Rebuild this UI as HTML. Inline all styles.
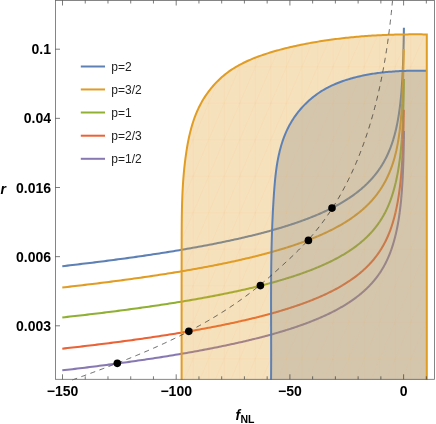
<!DOCTYPE html>
<html><head><meta charset="utf-8"><title>plot</title>
<style>
html,body{margin:0;padding:0;background:#fff;}
body{width:436px;height:424px;overflow:hidden;}
svg{display:block;font-family:"Liberation Sans",sans-serif;}
svg{will-change:transform;transform:translateZ(0);}
</style></head><body>
<svg width="436" height="424" viewBox="0 0 436 424">
<rect width="436" height="424" fill="#fff"/>
<g fill="none" stroke-width="2.05" stroke-linecap="butt" stroke-linejoin="round">
<path d="M62.30 266.19 L64.87 265.90 L67.42 265.61 L69.96 265.31 L72.49 265.02 L75.00 264.73 L77.50 264.43 L79.99 264.14 L82.47 263.84 L84.93 263.55 L87.38 263.25 L89.82 262.95 L92.25 262.66 L94.66 262.36 L97.06 262.06 L99.45 261.76 L101.82 261.46 L104.19 261.16 L106.54 260.86 L108.88 260.55 L111.21 260.25 L113.52 259.95 L115.82 259.64 L118.11 259.34 L120.39 259.03 L122.66 258.72 L124.91 258.42 L127.15 258.11 L129.38 257.80 L131.60 257.49 L133.80 257.18 L136.00 256.87 L138.18 256.56 L140.35 256.25 L142.51 255.93 L144.66 255.62 L146.79 255.31 L148.91 254.99 L151.02 254.68 L153.12 254.36 L155.21 254.04 L157.29 253.72 L159.35 253.40 L161.41 253.08 L163.45 252.76 L165.48 252.44 L167.50 252.12 L169.51 251.80 L171.50 251.47 L173.49 251.15 L175.46 250.82 L177.42 250.50 L179.37 250.17 L181.31 249.84 L183.24 249.52 L185.16 249.19 L187.06 248.86 L188.96 248.53 L190.84 248.19 L192.72 247.86 L194.58 247.53 L196.43 247.19 L198.27 246.86 L200.10 246.52 L201.92 246.18 L203.73 245.85 L205.52 245.51 L207.31 245.17 L209.08 244.83 L210.85 244.48 L212.60 244.14 L214.35 243.80 L216.08 243.45 L217.80 243.11 L219.51 242.76 L221.21 242.42 L222.91 242.07 L224.59 241.72 L226.26 241.37 L227.92 241.02 L229.56 240.66 L231.20 240.31 L232.83 239.96 L234.45 239.60 L236.06 239.25 L237.66 238.89 L239.24 238.53 L240.82 238.17 L242.39 237.81 L243.95 237.45 L245.49 237.09 L247.03 236.72 L248.56 236.36 L250.08 235.99 L251.59 235.63 L253.08 235.26 L254.57 234.89 L256.05 234.52 L257.52 234.15 L258.98 233.77 L260.43 233.40 L261.87 233.03 L263.30 232.65 L264.72 232.27 L266.13 231.90 L267.53 231.52 L268.92 231.14 L270.30 230.75 L271.68 230.37 L273.04 229.99 L274.39 229.60 L275.74 229.21 L277.07 228.83 L278.40 228.44 L279.72 228.05 L281.02 227.66 L282.32 227.26 L283.61 226.87 L284.89 226.47 L286.16 226.08 L287.42 225.68 L288.68 225.28 L289.92 224.88 L291.16 224.47 L292.38 224.07 L293.60 223.67 L294.81 223.26 L296.01 222.85 L297.20 222.44 L298.38 222.03 L299.56 221.62 L300.72 221.21 L301.88 220.79 L303.02 220.38 L304.16 219.96 L305.29 219.54 L306.41 219.12 L307.53 218.69 L308.63 218.27 L309.73 217.85 L310.82 217.42 L311.90 216.99 L312.97 216.56 L314.03 216.13 L315.09 215.69 L316.13 215.26 L317.17 214.82 L318.20 214.38 L319.22 213.94 L320.24 213.50 L321.24 213.06 L322.24 212.62 L323.23 212.17 L324.21 211.72 L325.18 211.27 L326.15 210.82 L327.11 210.36 L328.06 209.91 L329.00 209.45 L329.93 208.99 L330.86 208.53 L331.78 208.07 L332.69 207.60 L333.60 207.14 L334.49 206.67 L335.38 206.20 L336.26 205.73 L337.13 205.25 L338.00 204.78 L338.86 204.30 L339.71 203.82 L340.55 203.34 L341.39 202.85 L342.22 202.37 L343.04 201.88 L343.85 201.39 L344.66 200.89 L345.46 200.40 L346.25 199.90 L347.04 199.40 L347.82 198.90 L348.59 198.40 L349.35 197.89 L350.11 197.38 L350.86 196.87 L351.60 196.36 L352.34 195.85 L353.07 195.33 L353.79 194.81 L354.51 194.29 L355.22 193.76 L355.92 193.24 L356.61 192.71 L357.30 192.18 L357.99 191.64 L358.66 191.10 L359.33 190.56 L359.99 190.02 L360.65 189.48 L361.30 188.93 L361.94 188.38 L362.58 187.83 L363.21 187.27 L363.83 186.71 L364.45 186.15 L365.06 185.59 L365.67 185.02 L366.26 184.45 L366.86 183.88 L367.44 183.30 L368.02 182.73 L368.60 182.15 L369.17 181.56 L369.73 180.97 L370.28 180.38 L370.83 179.79 L371.38 179.19 L371.92 178.59 L372.45 177.99 L372.97 177.38 L373.49 176.77 L374.01 176.16 L374.52 175.54 L375.02 174.92 L375.52 174.30 L376.01 173.67 L376.50 173.04 L376.98 172.41 L377.45 171.77 L377.92 171.13 L378.39 170.48 L378.85 169.83 L379.30 169.18 L379.75 168.52 L380.19 167.86 L380.63 167.20 L381.06 166.53 L381.49 165.86 L381.91 165.18 L382.32 164.50 L382.73 163.81 L383.14 163.12 L383.54 162.43 L383.94 161.73 L384.33 161.03 L384.71 160.32 L385.09 159.61 L385.47 158.89 L385.84 158.17 L386.21 157.45 L386.57 156.72 L386.92 155.98 L387.27 155.24 L387.62 154.49 L387.96 153.74 L388.30 152.99 L388.63 152.23 L388.96 151.46 L389.28 150.69 L389.60 149.91 L389.92 149.13 L390.23 148.34 L390.53 147.55 L390.83 146.75 L391.13 145.95 L391.42 145.13 L391.71 144.32 L391.99 143.49 L392.27 142.66 L392.55 141.83 L392.82 140.99 L393.09 140.14 L393.35 139.28 L393.61 138.42 L393.86 137.55 L394.11 136.67 L394.36 135.79 L394.60 134.90 L394.84 134.00 L395.08 133.10 L395.31 132.19 L395.54 131.27 L395.76 130.34 L395.98 129.40 L396.20 128.46 L396.41 127.51 L396.62 126.55 L396.82 125.58 L397.02 124.60 L397.22 123.61 L397.42 122.62 L397.61 121.61 L397.79 120.60 L397.98 119.58 L398.16 118.54 L398.34 117.50 L398.51 116.45 L398.68 115.39 L398.85 114.31 L399.01 113.23 L399.17 112.13 L399.33 111.03 L399.48 109.91 L399.63 108.78 L399.78 107.64 L399.93 106.49 L400.07 105.32 L400.21 104.15 L400.34 102.96 L400.48 101.75 L400.61 100.54 L400.73 99.30 L400.86 98.06 L400.98 96.80 L401.10 95.53 L401.22 94.24 L401.33 92.93 L401.44 91.61 L401.55 90.28 L401.65 88.93 L401.75 87.56 L401.86 86.17 L401.95 84.76 L402.05 83.34 L402.14 81.90 L402.23 80.44 L402.32 78.96 L402.40 77.45 L402.49 75.93 L402.57 74.39 L402.65 72.82 L402.72 71.23 L402.80 69.62 L402.87 67.98 L402.94 66.32 L403.01 64.63 L403.07 62.92 L403.14 61.18 L403.20 59.41 L403.26 57.61 L403.31 55.78 L403.37 53.92 L403.42 52.02 L403.48 50.10 L403.53 48.14 L403.57 46.14 L403.62 44.10 L403.67 42.03 L403.71 39.92 L403.75 37.76 L403.79 35.56 L403.83 33.32 L403.86 31.03 L403.90 28.69 L403.90 27.70" stroke="#5E81B5"/>
<path d="M62.30 287.49 L64.87 287.20 L67.43 286.92 L69.97 286.63 L72.50 286.34 L75.02 286.05 L77.52 285.76 L80.02 285.47 L82.50 285.18 L84.96 284.89 L87.42 284.60 L89.86 284.30 L92.29 284.01 L94.71 283.71 L97.11 283.42 L99.50 283.12 L101.88 282.83 L104.25 282.53 L106.61 282.23 L108.95 281.93 L111.28 281.63 L113.60 281.33 L115.90 281.03 L118.20 280.73 L120.48 280.43 L122.75 280.13 L125.00 279.82 L127.25 279.52 L129.48 279.21 L131.70 278.91 L133.91 278.60 L136.11 278.29 L138.30 277.98 L140.47 277.68 L142.63 277.37 L144.78 277.06 L146.92 276.74 L149.04 276.43 L151.16 276.12 L153.26 275.81 L155.35 275.49 L157.43 275.18 L159.50 274.86 L161.56 274.54 L163.60 274.23 L165.64 273.91 L167.66 273.59 L169.67 273.27 L171.67 272.95 L173.65 272.62 L175.63 272.30 L177.60 271.98 L179.55 271.65 L181.49 271.33 L183.42 271.00 L185.34 270.67 L187.25 270.35 L189.15 270.02 L191.04 269.69 L192.91 269.36 L194.78 269.03 L196.63 268.69 L198.48 268.36 L200.31 268.02 L202.13 267.69 L203.94 267.35 L205.74 267.02 L207.53 266.68 L209.31 266.34 L211.07 266.00 L212.83 265.66 L214.58 265.32 L216.31 264.97 L218.04 264.63 L219.75 264.28 L221.46 263.94 L223.15 263.59 L224.83 263.24 L226.50 262.89 L228.17 262.54 L229.82 262.19 L231.46 261.84 L233.09 261.49 L234.71 261.13 L236.32 260.78 L237.92 260.42 L239.51 260.06 L241.09 259.71 L242.66 259.35 L244.22 258.99 L245.77 258.62 L247.31 258.26 L248.84 257.90 L250.36 257.53 L251.87 257.17 L253.37 256.80 L254.86 256.43 L256.34 256.06 L257.81 255.69 L259.28 255.32 L260.73 254.94 L262.17 254.57 L263.60 254.19 L265.02 253.82 L266.44 253.44 L267.84 253.06 L269.23 252.68 L270.62 252.30 L271.99 251.91 L273.36 251.53 L274.71 251.14 L276.06 250.76 L277.40 250.37 L278.73 249.98 L280.05 249.59 L281.35 249.20 L282.66 248.80 L283.95 248.41 L285.23 248.01 L286.50 247.62 L287.77 247.22 L289.02 246.82 L290.27 246.41 L291.50 246.01 L292.73 245.61 L293.95 245.20 L295.16 244.79 L296.36 244.39 L297.56 243.98 L298.74 243.56 L299.91 243.15 L301.08 242.74 L302.24 242.32 L303.39 241.90 L304.53 241.48 L305.66 241.06 L306.78 240.64 L307.90 240.22 L309.01 239.79 L310.10 239.36 L311.19 238.94 L312.27 238.51 L313.35 238.07 L314.41 237.64 L315.47 237.21 L316.52 236.77 L317.56 236.33 L318.59 235.89 L319.61 235.45 L320.63 235.01 L321.63 234.56 L322.63 234.11 L323.62 233.67 L324.61 233.22 L325.58 232.76 L326.55 232.31 L327.51 231.85 L328.46 231.40 L329.40 230.94 L330.34 230.48 L331.27 230.01 L332.19 229.55 L333.10 229.08 L334.01 228.61 L334.90 228.14 L335.79 227.67 L336.68 227.19 L337.55 226.72 L338.42 226.24 L339.28 225.76 L340.13 225.27 L340.97 224.79 L341.81 224.30 L342.64 223.81 L343.46 223.32 L344.28 222.83 L345.09 222.33 L345.89 221.83 L346.68 221.33 L347.47 220.83 L348.25 220.33 L349.02 219.82 L349.79 219.31 L350.55 218.80 L351.30 218.29 L352.04 217.77 L352.78 217.25 L353.51 216.73 L354.23 216.21 L354.95 215.68 L355.66 215.15 L356.36 214.62 L357.06 214.09 L357.75 213.55 L358.43 213.02 L359.11 212.47 L359.78 211.93 L360.44 211.38 L361.10 210.84 L361.75 210.28 L362.40 209.73 L363.03 209.17 L363.66 208.61 L364.29 208.05 L364.91 207.49 L365.52 206.92 L366.13 206.35 L366.72 205.77 L367.32 205.20 L367.91 204.62 L368.49 204.03 L369.06 203.45 L369.63 202.86 L370.19 202.26 L370.75 201.67 L371.30 201.07 L371.85 200.47 L372.38 199.86 L372.92 199.25 L373.44 198.64 L373.97 198.03 L374.48 197.41 L374.99 196.79 L375.49 196.16 L375.99 195.53 L376.49 194.90 L376.97 194.26 L377.45 193.62 L377.93 192.98 L378.40 192.33 L378.87 191.68 L379.33 191.03 L379.78 190.37 L380.23 189.70 L380.67 189.04 L381.11 188.37 L381.54 187.69 L381.97 187.01 L382.39 186.33 L382.81 185.64 L383.22 184.95 L383.63 184.26 L384.03 183.56 L384.42 182.85 L384.81 182.14 L385.20 181.43 L385.58 180.71 L385.96 179.99 L386.33 179.26 L386.70 178.53 L387.06 177.79 L387.41 177.04 L387.77 176.30 L388.11 175.54 L388.46 174.79 L388.79 174.02 L389.13 173.26 L389.46 172.48 L389.78 171.70 L390.10 170.92 L390.41 170.13 L390.72 169.33 L391.03 168.53 L391.33 167.72 L391.63 166.91 L391.92 166.09 L392.21 165.27 L392.49 164.43 L392.77 163.60 L393.04 162.75 L393.31 161.90 L393.58 161.04 L393.84 160.18 L394.09 159.31 L394.34 158.43 L394.59 157.54 L394.83 156.65 L395.06 155.75 L395.30 154.85 L395.53 153.93 L395.75 153.01 L395.97 152.08 L396.18 151.14 L396.40 150.20 L396.60 149.24 L396.81 148.28 L397.01 147.31 L397.20 146.33 L397.39 145.34 L397.58 144.35 L397.77 143.34 L397.95 142.33 L398.13 141.30 L398.30 140.27 L398.47 139.22 L398.64 138.17 L398.80 137.11 L398.96 136.03 L399.12 134.95 L399.27 133.85 L399.42 132.75 L399.57 131.63 L399.71 130.50 L399.85 129.36 L399.99 128.20 L400.12 127.04 L400.25 125.86 L400.38 124.67 L400.51 123.47 L400.63 122.25 L400.75 121.02 L400.87 119.78 L400.98 118.52 L401.09 117.25 L401.20 115.96 L401.31 114.66 L401.41 113.34 L401.51 112.00 L401.61 110.65 L401.71 109.28 L401.80 107.90 L401.89 106.50 L401.98 105.08 L402.07 103.64 L402.15 102.18 L402.23 100.70 L402.31 99.21 L402.39 97.69 L402.46 96.15 L402.54 94.59 L402.61 93.00 L402.68 91.40 L402.74 89.77 L402.81 88.11 L402.87 86.43 L402.93 84.72 L402.99 82.99 L403.05 81.23 L403.10 79.44 L403.16 77.62 L403.21 75.77 L403.26 73.89 L403.31 71.98 L403.35 70.03 L403.40 68.04 L403.44 66.02 L403.48 63.97 L403.52 61.87 L403.56 59.73 L403.60 57.56 L403.63 55.33 L403.67 53.06 L403.70 50.75 L403.70 48.90" stroke="#E19C24"/>
<path d="M62.30 317.44 L64.86 317.16 L67.41 316.88 L69.94 316.60 L72.46 316.32 L74.97 316.03 L77.46 315.75 L79.94 315.47 L82.41 315.19 L84.87 314.90 L87.32 314.62 L89.75 314.33 L92.17 314.05 L94.58 313.76 L96.97 313.47 L99.35 313.18 L101.72 312.90 L104.08 312.61 L106.43 312.32 L108.76 312.03 L111.08 311.73 L113.39 311.44 L115.69 311.15 L117.97 310.86 L120.24 310.56 L122.50 310.27 L124.75 309.97 L126.99 309.68 L129.21 309.38 L131.42 309.08 L133.62 308.78 L135.81 308.48 L137.99 308.19 L140.15 307.88 L142.30 307.58 L144.44 307.28 L146.57 306.98 L148.69 306.68 L150.80 306.37 L152.89 306.07 L154.97 305.76 L157.05 305.45 L159.10 305.15 L161.15 304.84 L163.19 304.53 L165.21 304.22 L167.23 303.91 L169.23 303.60 L171.22 303.29 L173.20 302.98 L175.17 302.66 L177.13 302.35 L179.07 302.03 L181.01 301.72 L182.93 301.40 L184.84 301.08 L186.75 300.76 L188.64 300.44 L190.51 300.12 L192.38 299.80 L194.24 299.48 L196.09 299.16 L197.92 298.84 L199.75 298.51 L201.56 298.19 L203.36 297.86 L205.16 297.53 L206.94 297.20 L208.71 296.87 L210.47 296.54 L212.22 296.21 L213.96 295.88 L215.69 295.55 L217.40 295.22 L219.11 294.88 L220.81 294.55 L222.49 294.21 L224.17 293.87 L225.84 293.53 L227.49 293.19 L229.14 292.85 L230.77 292.51 L232.40 292.17 L234.01 291.83 L235.61 291.48 L237.21 291.14 L238.79 290.79 L240.36 290.44 L241.93 290.09 L243.48 289.74 L245.03 289.39 L246.56 289.04 L248.08 288.69 L249.60 288.34 L251.10 287.98 L252.60 287.63 L254.08 287.27 L255.55 286.91 L257.02 286.55 L258.47 286.19 L259.92 285.83 L261.36 285.47 L262.78 285.10 L264.20 284.74 L265.61 284.37 L267.00 284.00 L268.39 283.63 L269.77 283.27 L271.14 282.89 L272.50 282.52 L273.85 282.15 L275.19 281.77 L276.52 281.40 L277.85 281.02 L279.16 280.64 L280.46 280.26 L281.76 279.88 L283.04 279.50 L284.32 279.12 L285.59 278.73 L286.85 278.35 L288.10 277.96 L289.34 277.57 L290.57 277.18 L291.79 276.79 L293.01 276.40 L294.21 276.00 L295.41 275.61 L296.60 275.21 L297.78 274.81 L298.95 274.41 L300.11 274.01 L301.26 273.61 L302.41 273.21 L303.54 272.80 L304.67 272.39 L305.79 271.98 L306.90 271.57 L308.00 271.16 L309.10 270.75 L310.18 270.34 L311.26 269.92 L312.33 269.50 L313.39 269.08 L314.44 268.66 L315.48 268.24 L316.52 267.82 L317.54 267.39 L318.56 266.96 L319.58 266.54 L320.58 266.11 L321.57 265.67 L322.56 265.24 L323.54 264.80 L324.51 264.37 L325.47 263.93 L326.43 263.49 L327.38 263.05 L328.32 262.60 L329.25 262.16 L330.17 261.71 L331.09 261.26 L332.00 260.81 L332.90 260.35 L333.79 259.90 L334.68 259.44 L335.56 258.98 L336.43 258.52 L337.29 258.06 L338.15 257.59 L339.00 257.13 L339.84 256.66 L340.67 256.19 L341.50 255.72 L342.32 255.24 L343.13 254.76 L343.94 254.29 L344.73 253.80 L345.53 253.32 L346.31 252.84 L347.09 252.35 L347.85 251.86 L348.62 251.37 L349.37 250.87 L350.12 250.38 L350.86 249.88 L351.60 249.38 L352.32 248.87 L353.05 248.37 L353.76 247.86 L354.47 247.35 L355.17 246.84 L355.86 246.32 L356.55 245.81 L357.23 245.29 L357.90 244.76 L358.57 244.24 L359.23 243.71 L359.88 243.18 L360.53 242.65 L361.17 242.11 L361.81 241.58 L362.44 241.04 L363.06 240.49 L363.68 239.95 L364.29 239.40 L364.89 238.85 L365.49 238.29 L366.08 237.74 L366.66 237.18 L367.24 236.61 L367.81 236.05 L368.38 235.48 L368.94 234.91 L369.49 234.33 L370.04 233.75 L370.59 233.17 L371.12 232.59 L371.65 232.00 L372.18 231.41 L372.70 230.82 L373.21 230.22 L373.72 229.62 L374.22 229.02 L374.72 228.41 L375.21 227.80 L375.69 227.18 L376.17 226.57 L376.65 225.94 L377.11 225.32 L377.58 224.69 L378.04 224.06 L378.49 223.42 L378.93 222.78 L379.38 222.14 L379.81 221.49 L380.24 220.84 L380.67 220.19 L381.09 219.53 L381.50 218.86 L381.91 218.20 L382.32 217.53 L382.72 216.85 L383.11 216.17 L383.50 215.48 L383.89 214.80 L384.27 214.10 L384.64 213.40 L385.01 212.70 L385.38 212.00 L385.74 211.28 L386.09 210.57 L386.44 209.85 L386.79 209.12 L387.13 208.39 L387.47 207.65 L387.80 206.91 L388.12 206.17 L388.45 205.41 L388.77 204.66 L389.08 203.89 L389.39 203.13 L389.69 202.35 L389.99 201.57 L390.29 200.79 L390.58 200.00 L390.87 199.20 L391.15 198.40 L391.43 197.59 L391.70 196.78 L391.97 195.96 L392.24 195.13 L392.50 194.30 L392.76 193.46 L393.02 192.61 L393.27 191.75 L393.53 190.89 L393.77 190.03 L394.02 189.15 L394.26 188.27 L394.50 187.38 L394.73 186.48 L394.96 185.58 L395.19 184.67 L395.41 183.75 L395.64 182.82 L395.85 181.88 L396.07 180.94 L396.28 179.99 L396.49 179.03 L396.70 178.06 L396.90 177.08 L397.10 176.09 L397.29 175.09 L397.49 174.08 L397.67 173.07 L397.86 172.04 L398.04 171.01 L398.22 169.96 L398.40 168.90 L398.57 167.83 L398.74 166.76 L398.91 165.67 L399.08 164.57 L399.24 163.46 L399.40 162.33 L399.55 161.20 L399.70 160.05 L399.85 158.89 L400.00 157.71 L400.14 156.53 L400.28 155.33 L400.42 154.11 L400.55 152.89 L400.68 151.64 L400.81 150.39 L400.94 149.12 L401.06 147.83 L401.18 146.53 L401.30 145.21 L401.41 143.87 L401.53 142.52 L401.64 141.15 L401.74 139.76 L401.85 138.36 L401.95 136.93 L402.05 135.49 L402.14 134.02 L402.23 132.54 L402.33 131.03 L402.41 129.51 L402.50 127.96 L402.58 126.38 L402.67 124.79 L402.74 123.17 L402.82 121.52 L402.90 119.85 L402.97 118.15 L403.04 116.43 L403.11 114.67 L403.17 112.89 L403.23 111.07 L403.30 109.23 L403.35 107.35 L403.41 105.44 L403.47 103.49 L403.52 101.51 L403.57 99.49 L403.62 97.42 L403.67 95.32 L403.71 93.18 L403.76 90.99 L403.80 88.76 L403.84 86.47 L403.88 84.14 L403.91 81.76 L403.95 79.32 L403.95 78.90" stroke="#8FB032"/>
<path d="M62.30 348.66 L64.86 348.38 L67.41 348.10 L69.94 347.81 L72.46 347.53 L74.97 347.24 L77.46 346.95 L79.95 346.66 L82.42 346.38 L84.87 346.09 L87.32 345.80 L89.75 345.51 L92.17 345.22 L94.58 344.93 L96.97 344.63 L99.36 344.34 L101.73 344.05 L104.09 343.75 L106.43 343.46 L108.76 343.16 L111.09 342.87 L113.39 342.57 L115.69 342.27 L117.98 341.98 L120.25 341.68 L122.51 341.38 L124.76 341.08 L126.99 340.78 L129.22 340.47 L131.43 340.17 L133.63 339.87 L135.82 339.56 L138.00 339.26 L140.16 338.95 L142.31 338.65 L144.45 338.34 L146.58 338.03 L148.70 337.73 L150.81 337.42 L152.90 337.11 L154.98 336.80 L157.06 336.48 L159.12 336.17 L161.16 335.86 L163.20 335.55 L165.23 335.23 L167.24 334.92 L169.24 334.60 L171.23 334.28 L173.21 333.96 L175.18 333.65 L177.14 333.33 L179.09 333.01 L181.02 332.68 L182.94 332.36 L184.86 332.04 L186.76 331.72 L188.65 331.39 L190.53 331.06 L192.40 330.74 L194.26 330.41 L196.10 330.08 L197.94 329.75 L199.76 329.42 L201.58 329.09 L203.38 328.76 L205.17 328.43 L206.95 328.10 L208.73 327.76 L210.49 327.43 L212.24 327.09 L213.97 326.75 L215.70 326.41 L217.42 326.07 L219.13 325.73 L220.83 325.39 L222.51 325.05 L224.19 324.71 L225.85 324.36 L227.51 324.02 L229.16 323.67 L230.79 323.33 L232.41 322.98 L234.03 322.63 L235.63 322.28 L237.23 321.93 L238.81 321.57 L240.39 321.22 L241.95 320.87 L243.50 320.51 L245.05 320.15 L246.58 319.80 L248.10 319.44 L249.62 319.08 L251.12 318.72 L252.62 318.36 L254.10 317.99 L255.58 317.63 L257.04 317.26 L258.50 316.90 L259.94 316.53 L261.38 316.16 L262.80 315.79 L264.22 315.42 L265.63 315.05 L267.03 314.67 L268.41 314.30 L269.79 313.92 L271.16 313.54 L272.52 313.17 L273.87 312.79 L275.22 312.41 L276.55 312.02 L277.87 311.64 L279.18 311.26 L280.49 310.87 L281.78 310.48 L283.07 310.09 L284.35 309.70 L285.61 309.31 L286.87 308.92 L288.12 308.53 L289.37 308.13 L290.60 307.73 L291.82 307.34 L293.03 306.94 L294.24 306.54 L295.44 306.13 L296.63 305.73 L297.80 305.33 L298.97 304.92 L300.14 304.51 L301.29 304.10 L302.43 303.69 L303.57 303.28 L304.70 302.86 L305.82 302.45 L306.93 302.03 L308.03 301.61 L309.12 301.19 L310.21 300.77 L311.29 300.35 L312.35 299.93 L313.41 299.50 L314.47 299.07 L315.51 298.64 L316.55 298.21 L317.57 297.78 L318.59 297.34 L319.60 296.91 L320.61 296.47 L321.60 296.03 L322.59 295.59 L323.57 295.15 L324.54 294.70 L325.50 294.26 L326.46 293.81 L327.41 293.36 L328.35 292.91 L329.28 292.45 L330.20 292.00 L331.12 291.54 L332.03 291.08 L332.93 290.62 L333.83 290.16 L334.71 289.69 L335.59 289.23 L336.46 288.76 L337.32 288.29 L338.18 287.81 L339.03 287.34 L339.87 286.86 L340.71 286.38 L341.53 285.90 L342.35 285.42 L343.16 284.94 L343.97 284.45 L344.77 283.96 L345.56 283.47 L346.34 282.97 L347.12 282.48 L347.89 281.98 L348.65 281.48 L349.41 280.98 L350.15 280.47 L350.90 279.97 L351.63 279.46 L352.36 278.95 L353.08 278.43 L353.79 277.91 L354.50 277.40 L355.20 276.87 L355.89 276.35 L356.58 275.82 L357.26 275.30 L357.94 274.76 L358.60 274.23 L359.26 273.69 L359.92 273.16 L360.57 272.61 L361.21 272.07 L361.84 271.52 L362.47 270.97 L363.09 270.42 L363.71 269.86 L364.32 269.31 L364.92 268.75 L365.52 268.18 L366.11 267.62 L366.70 267.05 L367.28 266.47 L367.85 265.90 L368.41 265.32 L368.98 264.74 L369.53 264.15 L370.08 263.56 L370.62 262.97 L371.16 262.38 L371.69 261.78 L372.21 261.18 L372.73 260.58 L373.25 259.97 L373.75 259.36 L374.26 258.75 L374.75 258.13 L375.24 257.51 L375.73 256.88 L376.21 256.25 L376.68 255.62 L377.15 254.99 L377.61 254.35 L378.07 253.70 L378.52 253.06 L378.97 252.41 L379.41 251.75 L379.85 251.09 L380.28 250.43 L380.70 249.76 L381.12 249.09 L381.54 248.42 L381.95 247.74 L382.35 247.06 L382.75 246.37 L383.15 245.68 L383.54 244.98 L383.92 244.28 L384.30 243.58 L384.68 242.87 L385.05 242.15 L385.41 241.43 L385.77 240.71 L386.13 239.98 L386.48 239.25 L386.83 238.51 L387.17 237.76 L387.50 237.02 L387.83 236.26 L388.16 235.50 L388.48 234.74 L388.80 233.97 L389.12 233.19 L389.43 232.41 L389.73 231.62 L390.03 230.83 L390.33 230.03 L390.62 229.23 L390.91 228.42 L391.19 227.60 L391.47 226.78 L391.74 225.95 L392.01 225.12 L392.28 224.28 L392.54 223.43 L392.80 222.57 L393.06 221.71 L393.31 220.84 L393.56 219.97 L393.81 219.09 L394.05 218.20 L394.29 217.30 L394.53 216.39 L394.76 215.48 L394.99 214.56 L395.22 213.64 L395.44 212.70 L395.66 211.76 L395.88 210.80 L396.09 209.84 L396.30 208.87 L396.51 207.90 L396.72 206.91 L396.92 205.91 L397.11 204.91 L397.31 203.89 L397.50 202.87 L397.69 201.84 L397.87 200.79 L398.05 199.74 L398.23 198.67 L398.40 197.60 L398.58 196.51 L398.74 195.42 L398.91 194.31 L399.07 193.19 L399.23 192.06 L399.39 190.91 L399.54 189.76 L399.69 188.59 L399.84 187.41 L399.98 186.22 L400.12 185.01 L400.26 183.79 L400.40 182.55 L400.53 181.31 L400.66 180.04 L400.79 178.76 L400.91 177.47 L401.03 176.16 L401.15 174.84 L401.27 173.50 L401.38 172.14 L401.49 170.76 L401.60 169.37 L401.70 167.96 L401.80 166.53 L401.90 165.08 L402.00 163.61 L402.09 162.12 L402.19 160.61 L402.28 159.08 L402.36 157.52 L402.45 155.95 L402.53 154.35 L402.61 152.72 L402.69 151.07 L402.76 149.40 L402.84 147.70 L402.91 145.97 L402.97 144.22 L403.04 142.43 L403.11 140.62 L403.17 138.77 L403.23 136.90 L403.29 134.98 L403.34 133.04 L403.40 131.06 L403.45 129.04 L403.50 126.98 L403.55 124.89 L403.59 122.75 L403.64 120.57 L403.68 118.34 L403.72 116.07 L403.76 113.75 L403.80 111.38 L403.80 109.75" stroke="#EB6235"/>
<path d="M62.30 370.34 L64.86 370.05 L67.41 369.75 L69.94 369.45 L72.46 369.16 L74.97 368.86 L77.47 368.56 L79.95 368.26 L82.42 367.96 L84.88 367.66 L87.33 367.36 L89.76 367.06 L92.18 366.76 L94.59 366.46 L96.99 366.16 L99.37 365.85 L101.74 365.55 L104.10 365.24 L106.45 364.94 L108.78 364.63 L111.10 364.33 L113.41 364.02 L115.71 363.71 L117.99 363.41 L120.27 363.10 L122.53 362.79 L124.78 362.48 L127.01 362.17 L129.24 361.86 L131.45 361.55 L133.65 361.24 L135.84 360.92 L138.02 360.61 L140.19 360.30 L142.34 359.98 L144.48 359.67 L146.61 359.35 L148.73 359.03 L150.84 358.72 L152.93 358.40 L155.02 358.08 L157.09 357.76 L159.15 357.44 L161.20 357.12 L163.23 356.80 L165.26 356.48 L167.27 356.16 L169.28 355.83 L171.27 355.51 L173.25 355.18 L175.22 354.86 L177.18 354.53 L179.12 354.20 L181.06 353.88 L182.98 353.55 L184.90 353.22 L186.80 352.89 L188.69 352.56 L190.57 352.23 L192.44 351.89 L194.30 351.56 L196.15 351.23 L197.98 350.89 L199.81 350.56 L201.62 350.22 L203.43 349.88 L205.22 349.55 L207.00 349.21 L208.77 348.87 L210.53 348.53 L212.28 348.19 L214.02 347.84 L215.75 347.50 L217.47 347.16 L219.18 346.81 L220.88 346.47 L222.56 346.12 L224.24 345.77 L225.91 345.42 L227.56 345.08 L229.21 344.73 L230.84 344.37 L232.47 344.02 L234.09 343.67 L235.69 343.32 L237.28 342.96 L238.87 342.61 L240.44 342.25 L242.01 341.89 L243.56 341.53 L245.11 341.17 L246.64 340.81 L248.16 340.45 L249.68 340.09 L251.18 339.73 L252.68 339.36 L254.16 339.00 L255.64 338.63 L257.10 338.26 L258.56 337.89 L260.01 337.52 L261.44 337.15 L262.87 336.78 L264.29 336.41 L265.69 336.03 L267.09 335.66 L268.48 335.28 L269.86 334.91 L271.23 334.53 L272.59 334.15 L273.94 333.77 L275.28 333.38 L276.62 333.00 L277.94 332.62 L279.25 332.23 L280.56 331.85 L281.86 331.46 L283.14 331.07 L284.42 330.68 L285.69 330.29 L286.95 329.89 L288.20 329.50 L289.44 329.11 L290.67 328.71 L291.90 328.31 L293.11 327.91 L294.32 327.51 L295.51 327.11 L296.70 326.71 L297.88 326.30 L299.05 325.90 L300.21 325.49 L301.37 325.08 L302.51 324.67 L303.65 324.26 L304.78 323.85 L305.90 323.44 L307.01 323.02 L308.11 322.60 L309.20 322.18 L310.29 321.77 L311.37 321.34 L312.44 320.92 L313.50 320.50 L314.55 320.07 L315.59 319.64 L316.63 319.22 L317.66 318.79 L318.68 318.35 L319.69 317.92 L320.69 317.49 L321.69 317.05 L322.67 316.61 L323.65 316.17 L324.63 315.73 L325.59 315.29 L326.55 314.84 L327.49 314.39 L328.43 313.95 L329.37 313.50 L330.29 313.04 L331.21 312.59 L332.12 312.14 L333.02 311.68 L333.91 311.22 L334.80 310.76 L335.68 310.30 L336.55 309.83 L337.41 309.37 L338.27 308.90 L339.12 308.43 L339.96 307.96 L340.80 307.48 L341.62 307.01 L342.44 306.53 L343.26 306.05 L344.06 305.57 L344.86 305.08 L345.65 304.60 L346.43 304.11 L347.21 303.62 L347.98 303.13 L348.74 302.63 L349.50 302.14 L350.25 301.64 L350.99 301.14 L351.72 300.63 L352.45 300.13 L353.17 299.62 L353.89 299.11 L354.60 298.60 L355.30 298.09 L355.99 297.57 L356.68 297.05 L357.36 296.53 L358.03 296.00 L358.70 295.48 L359.36 294.95 L360.02 294.42 L360.66 293.88 L361.31 293.35 L361.94 292.81 L362.57 292.26 L363.19 291.72 L363.81 291.17 L364.42 290.62 L365.02 290.07 L365.62 289.52 L366.21 288.96 L366.80 288.40 L367.37 287.83 L367.95 287.27 L368.51 286.70 L369.07 286.12 L369.63 285.55 L370.18 284.97 L370.72 284.39 L371.26 283.80 L371.79 283.22 L372.31 282.62 L372.83 282.03 L373.35 281.43 L373.86 280.83 L374.36 280.23 L374.85 279.62 L375.35 279.01 L375.83 278.40 L376.31 277.78 L376.78 277.16 L377.25 276.53 L377.72 275.91 L378.17 275.27 L378.63 274.64 L379.07 274.00 L379.51 273.36 L379.95 272.71 L380.38 272.06 L380.81 271.40 L381.23 270.75 L381.64 270.08 L382.05 269.42 L382.46 268.75 L382.86 268.07 L383.25 267.39 L383.64 266.71 L384.03 266.02 L384.41 265.33 L384.78 264.63 L385.15 263.93 L385.52 263.23 L385.88 262.52 L386.23 261.80 L386.58 261.08 L386.93 260.36 L387.27 259.63 L387.61 258.89 L387.94 258.16 L388.27 257.41 L388.59 256.66 L388.91 255.91 L389.22 255.15 L389.53 254.38 L389.84 253.61 L390.14 252.83 L390.43 252.05 L390.72 251.26 L391.01 250.47 L391.30 249.67 L391.57 248.86 L391.85 248.05 L392.12 247.23 L392.39 246.41 L392.65 245.58 L392.91 244.74 L393.17 243.90 L393.42 243.05 L393.67 242.19 L393.92 241.32 L394.16 240.45 L394.40 239.57 L394.64 238.69 L394.87 237.80 L395.10 236.89 L395.33 235.99 L395.56 235.07 L395.78 234.15 L395.99 233.21 L396.21 232.27 L396.42 231.32 L396.63 230.37 L396.83 229.40 L397.03 228.43 L397.23 227.44 L397.42 226.45 L397.61 225.45 L397.80 224.44 L397.99 223.41 L398.17 222.38 L398.35 221.34 L398.52 220.29 L398.69 219.23 L398.86 218.15 L399.03 217.07 L399.19 215.97 L399.35 214.87 L399.51 213.75 L399.66 212.62 L399.81 211.48 L399.96 210.32 L400.10 209.15 L400.25 207.97 L400.38 206.78 L400.52 205.57 L400.65 204.35 L400.78 203.12 L400.91 201.87 L401.03 200.60 L401.15 199.32 L401.27 198.02 L401.39 196.71 L401.50 195.38 L401.61 194.04 L401.72 192.68 L401.83 191.29 L401.93 189.90 L402.03 188.48 L402.12 187.04 L402.22 185.59 L402.31 184.11 L402.40 182.61 L402.49 181.09 L402.57 179.55 L402.66 177.99 L402.74 176.40 L402.81 174.79 L402.89 173.15 L402.96 171.49 L403.03 169.80 L403.10 168.08 L403.17 166.34 L403.23 164.56 L403.30 162.76 L403.36 160.92 L403.41 159.06 L403.47 157.15 L403.52 155.22 L403.58 153.24 L403.63 151.23 L403.68 149.18 L403.72 147.09 L403.77 144.96 L403.81 142.79 L403.85 140.57 L403.89 138.30 L403.93 135.98 L403.97 133.61 L404.00 131.18 L404.00 131.00" stroke="#8778B3"/>
</g>
<path d="M271.05 380.03 L271.06 378.65 L271.07 377.26 L271.08 375.88 L271.09 374.50 L271.10 373.11 L271.10 371.73 L271.11 370.35 L271.12 368.97 L271.12 367.59 L271.13 366.20 L271.13 364.82 L271.14 363.44 L271.14 362.06 L271.15 360.68 L271.15 359.30 L271.15 357.92 L271.15 356.53 L271.15 355.15 L271.15 353.77 L271.15 352.39 L271.15 351.01 L271.15 349.63 L271.15 348.25 L271.15 346.87 L271.15 345.49 L271.15 344.11 L271.14 342.74 L271.14 341.36 L271.14 339.98 L271.14 338.60 L271.13 337.22 L271.13 335.84 L271.13 334.46 L271.12 333.08 L271.12 331.70 L271.12 330.33 L271.11 328.95 L271.11 327.57 L271.11 326.19 L271.10 324.81 L271.10 323.44 L271.09 322.06 L271.09 320.68 L271.09 319.30 L271.08 317.92 L271.08 316.55 L271.08 315.17 L271.08 313.79 L271.07 312.41 L271.07 311.04 L271.07 309.66 L271.07 308.28 L271.06 306.90 L271.06 305.53 L271.06 304.15 L271.06 302.77 L271.06 301.39 L271.06 300.02 L271.06 298.64 L271.06 297.26 L271.06 295.88 L271.07 294.51 L271.07 293.13 L271.07 291.75 L271.08 290.37 L271.08 289.00 L271.08 287.62 L271.09 286.24 L271.10 284.86 L271.10 283.49 L271.11 282.11 L271.12 280.73 L271.13 279.35 L271.13 277.98 L271.14 276.60 L271.16 275.22 L271.17 273.84 L271.18 272.46 L271.19 271.09 L271.21 269.71 L271.22 268.33 L271.24 266.95 L271.26 265.57 L271.27 264.19 L271.29 262.82 L271.31 261.44 L271.33 260.06 L271.36 258.68 L271.38 257.30 L271.40 255.92 L271.43 254.54 L271.45 253.16 L271.48 251.78 L271.51 250.40 L271.54 249.02 L271.57 247.64 L271.60 246.26 L271.64 244.88 L271.67 243.50 L271.71 242.12 L271.74 240.74 L271.78 239.36 L271.82 237.98 L271.86 236.60 L271.91 235.22 L271.95 233.84 L272.00 232.45 L272.04 231.07 L272.09 229.69 L272.14 228.31 L272.19 226.93 L272.25 225.54 L272.30 224.16 L272.36 222.78 L272.42 221.40 L272.48 220.01 L272.54 218.63 L272.60 217.24 L272.67 215.86 L272.73 214.48 L272.80 213.09 L272.87 211.71 L272.94 210.32 L273.01 208.94 L273.09 207.55 L273.17 206.17 L273.25 204.78 L273.33 203.39 L273.41 202.01 L273.49 200.62 L273.58 199.23 L273.67 197.85 L273.76 196.46 L273.85 195.07 L273.95 193.68 L274.05 192.30 L274.15 190.91 L274.25 189.52 L274.35 188.13 L274.46 186.75 L274.58 185.36 L274.69 183.97 L274.82 182.59 L274.94 181.20 L275.08 179.82 L275.21 178.44 L275.36 177.06 L275.51 175.68 L275.67 174.31 L275.83 172.93 L276.00 171.56 L276.18 170.19 L276.36 168.82 L276.56 167.46 L276.76 166.09 L276.97 164.73 L277.19 163.38 L277.42 162.02 L277.66 160.67 L277.91 159.33 L278.17 157.98 L278.44 156.64 L278.73 155.31 L279.02 153.98 L279.33 152.65 L279.64 151.33 L279.97 150.01 L280.32 148.70 L280.67 147.39 L281.04 146.08 L281.42 144.78 L281.82 143.49 L282.23 142.20 L282.66 140.92 L283.10 139.64 L283.55 138.37 L284.02 137.11 L284.51 135.85 L285.01 134.60 L285.53 133.35 L286.07 132.11 L286.63 130.88 L287.20 129.66 L287.79 128.44 L288.40 127.23 L289.02 126.02 L289.67 124.83 L290.33 123.64 L291.02 122.46 L291.72 121.28 L292.45 120.12 L293.19 118.96 L293.95 117.82 L294.73 116.68 L295.53 115.55 L296.35 114.44 L297.18 113.33 L298.04 112.23 L298.91 111.15 L299.79 110.08 L300.70 109.02 L301.61 107.97 L302.55 106.94 L303.50 105.91 L304.47 104.91 L305.45 103.91 L306.45 102.94 L307.46 101.97 L308.48 101.02 L309.52 100.09 L310.57 99.17 L311.64 98.27 L312.72 97.39 L313.81 96.52 L314.91 95.67 L316.03 94.84 L317.15 94.03 L318.29 93.24 L319.44 92.46 L320.60 91.70 L321.77 90.97 L322.95 90.25 L324.14 89.55 L325.34 88.87 L326.55 88.21 L327.77 87.56 L329.00 86.93 L330.23 86.32 L331.48 85.72 L332.73 85.14 L333.99 84.58 L335.25 84.03 L336.52 83.50 L337.80 82.98 L339.08 82.47 L340.37 81.98 L341.67 81.51 L342.96 81.05 L344.27 80.60 L345.58 80.16 L346.89 79.74 L348.21 79.33 L349.52 78.93 L350.85 78.55 L352.17 78.17 L353.50 77.81 L354.83 77.46 L356.16 77.12 L357.50 76.79 L358.84 76.47 L360.18 76.16 L361.52 75.86 L362.87 75.58 L364.21 75.30 L365.56 75.03 L366.92 74.77 L368.27 74.53 L369.63 74.29 L370.98 74.06 L372.34 73.84 L373.70 73.63 L375.07 73.42 L376.43 73.23 L377.80 73.05 L379.16 72.87 L380.53 72.70 L381.90 72.54 L383.27 72.39 L384.65 72.25 L386.02 72.11 L387.39 71.98 L388.77 71.86 L390.14 71.74 L391.52 71.63 L392.90 71.53 L394.28 71.44 L395.66 71.35 L397.04 71.27 L398.42 71.19 L399.80 71.12 L401.18 71.06 L402.56 71.00 L403.94 70.95 L405.32 70.90 L406.70 70.86 L408.08 70.82 L409.46 70.79 L410.84 70.76 L412.22 70.73 L413.60 70.72 L414.98 70.70 L416.36 70.69 L417.74 70.68 L419.11 70.68 L420.49 70.68 L421.87 70.68 L423.24 70.69 L424.62 70.70 L425.99 70.71 L426.30 70.71 L426.30 380.00 Z" fill="#5E81B5" fill-opacity="0.3"/>
<path d="M181.60 380.00 L181.60 378.24 L181.60 376.48 L181.60 374.72 L181.60 372.96 L181.60 371.20 L181.60 369.45 L181.60 367.69 L181.60 365.93 L181.60 364.17 L181.60 362.41 L181.60 360.65 L181.60 358.89 L181.60 357.13 L181.60 355.37 L181.60 353.62 L181.60 351.86 L181.60 350.10 L181.60 348.34 L181.60 346.58 L181.60 344.82 L181.60 343.06 L181.60 341.30 L181.60 339.54 L181.59 337.78 L181.59 336.02 L181.59 334.26 L181.59 332.50 L181.59 330.75 L181.59 328.99 L181.59 327.23 L181.59 325.47 L181.59 323.71 L181.59 321.95 L181.59 320.19 L181.59 318.43 L181.59 316.67 L181.59 314.91 L181.59 313.15 L181.59 311.39 L181.59 309.63 L181.59 307.87 L181.59 306.11 L181.59 304.35 L181.59 302.59 L181.59 300.84 L181.60 299.08 L181.60 297.32 L181.60 295.56 L181.60 293.80 L181.60 292.04 L181.60 290.28 L181.60 288.52 L181.60 286.76 L181.60 285.00 L181.60 283.24 L181.61 281.48 L181.61 279.72 L181.61 277.97 L181.61 276.21 L181.61 274.45 L181.61 272.69 L181.62 270.93 L181.62 269.17 L181.62 267.41 L181.62 265.65 L181.62 263.90 L181.63 262.14 L181.63 260.38 L181.63 258.62 L181.63 256.86 L181.64 255.10 L181.64 253.35 L181.64 251.59 L181.65 249.83 L181.65 248.07 L181.65 246.31 L181.66 244.56 L181.66 242.80 L181.67 241.04 L181.67 239.28 L181.67 237.53 L181.68 235.77 L181.68 234.01 L181.69 232.25 L181.70 230.50 L181.71 228.74 L181.72 226.98 L181.73 225.22 L181.74 223.47 L181.76 221.71 L181.78 219.95 L181.80 218.20 L181.82 216.44 L181.84 214.69 L181.87 212.93 L181.91 211.17 L181.94 209.42 L181.98 207.66 L182.02 205.91 L182.07 204.15 L182.12 202.39 L182.18 200.64 L182.24 198.88 L182.31 197.13 L182.38 195.37 L182.45 193.62 L182.53 191.86 L182.62 190.11 L182.72 188.35 L182.81 186.60 L182.92 184.84 L183.03 183.09 L183.15 181.33 L183.28 179.58 L183.41 177.83 L183.55 176.07 L183.70 174.32 L183.85 172.57 L184.02 170.81 L184.19 169.06 L184.37 167.31 L184.56 165.55 L184.76 163.80 L184.96 162.05 L185.18 160.29 L185.40 158.54 L185.64 156.79 L185.88 155.04 L186.14 153.28 L186.40 151.53 L186.67 149.78 L186.96 148.03 L187.26 146.28 L187.57 144.53 L187.89 142.78 L188.23 141.04 L188.58 139.30 L188.94 137.56 L189.33 135.83 L189.72 134.11 L190.14 132.38 L190.57 130.67 L191.02 128.96 L191.49 127.25 L191.98 125.56 L192.49 123.87 L193.02 122.19 L193.57 120.52 L194.15 118.86 L194.74 117.21 L195.36 115.57 L196.01 113.94 L196.68 112.32 L197.37 110.71 L198.10 109.12 L198.84 107.54 L199.62 105.97 L200.42 104.42 L201.25 102.88 L202.11 101.35 L203.00 99.85 L203.91 98.35 L204.85 96.88 L205.82 95.42 L206.81 93.98 L207.82 92.56 L208.87 91.16 L209.93 89.77 L211.02 88.41 L212.14 87.06 L213.28 85.74 L214.44 84.44 L215.63 83.16 L216.84 81.90 L218.07 80.67 L219.32 79.46 L220.60 78.27 L221.90 77.11 L223.22 75.97 L224.56 74.86 L225.92 73.77 L227.30 72.71 L228.71 71.68 L230.13 70.68 L231.57 69.70 L233.03 68.75 L234.50 67.82 L236.00 66.92 L237.51 66.04 L239.03 65.18 L240.58 64.35 L242.13 63.54 L243.70 62.75 L245.28 61.99 L246.87 61.24 L248.48 60.51 L250.10 59.80 L251.72 59.11 L253.36 58.44 L255.00 57.79 L256.66 57.15 L258.32 56.53 L259.98 55.92 L261.66 55.33 L263.34 54.75 L265.02 54.19 L266.71 53.64 L268.40 53.10 L270.10 52.58 L271.80 52.06 L273.49 51.56 L275.20 51.06 L276.90 50.58 L278.60 50.11 L280.31 49.64 L282.01 49.19 L283.72 48.75 L285.43 48.31 L287.15 47.89 L288.86 47.47 L290.57 47.07 L292.29 46.67 L294.01 46.28 L295.73 45.90 L297.45 45.53 L299.17 45.16 L300.89 44.81 L302.62 44.46 L304.34 44.12 L306.07 43.78 L307.79 43.46 L309.52 43.14 L311.25 42.82 L312.98 42.52 L314.71 42.21 L316.45 41.92 L318.18 41.63 L319.91 41.35 L321.65 41.08 L323.39 40.81 L325.12 40.54 L326.86 40.29 L328.60 40.04 L330.34 39.79 L332.08 39.55 L333.82 39.32 L335.56 39.09 L337.30 38.87 L339.05 38.66 L340.79 38.45 L342.54 38.25 L344.28 38.05 L346.03 37.86 L347.77 37.67 L349.52 37.49 L351.27 37.31 L353.02 37.14 L354.77 36.98 L356.52 36.82 L358.27 36.67 L360.02 36.52 L361.77 36.37 L363.52 36.24 L365.28 36.10 L367.03 35.98 L368.78 35.85 L370.54 35.74 L372.29 35.62 L374.05 35.52 L375.80 35.42 L377.56 35.32 L379.31 35.23 L381.07 35.14 L382.82 35.06 L384.58 34.98 L386.34 34.90 L388.10 34.84 L389.85 34.77 L391.61 34.71 L393.37 34.66 L395.13 34.61 L396.89 34.56 L398.65 34.52 L400.41 34.48 L402.17 34.45 L403.93 34.42 L405.68 34.40 L407.44 34.38 L409.20 34.36 L410.96 34.35 L412.72 34.34 L414.48 34.34 L416.24 34.34 L418.00 34.35 L419.76 34.36 L421.52 34.37 L423.28 34.39 L425.04 34.41 L426.80 34.43 L426.80 34.43 L426.80 380.00 Z" fill="#E19C24" fill-opacity="0.3"/>
<clipPath id="oc"><path d="M181.60 380.00 L181.60 378.24 L181.60 376.48 L181.60 374.72 L181.60 372.96 L181.60 371.20 L181.60 369.45 L181.60 367.69 L181.60 365.93 L181.60 364.17 L181.60 362.41 L181.60 360.65 L181.60 358.89 L181.60 357.13 L181.60 355.37 L181.60 353.62 L181.60 351.86 L181.60 350.10 L181.60 348.34 L181.60 346.58 L181.60 344.82 L181.60 343.06 L181.60 341.30 L181.60 339.54 L181.59 337.78 L181.59 336.02 L181.59 334.26 L181.59 332.50 L181.59 330.75 L181.59 328.99 L181.59 327.23 L181.59 325.47 L181.59 323.71 L181.59 321.95 L181.59 320.19 L181.59 318.43 L181.59 316.67 L181.59 314.91 L181.59 313.15 L181.59 311.39 L181.59 309.63 L181.59 307.87 L181.59 306.11 L181.59 304.35 L181.59 302.59 L181.59 300.84 L181.60 299.08 L181.60 297.32 L181.60 295.56 L181.60 293.80 L181.60 292.04 L181.60 290.28 L181.60 288.52 L181.60 286.76 L181.60 285.00 L181.60 283.24 L181.61 281.48 L181.61 279.72 L181.61 277.97 L181.61 276.21 L181.61 274.45 L181.61 272.69 L181.62 270.93 L181.62 269.17 L181.62 267.41 L181.62 265.65 L181.62 263.90 L181.63 262.14 L181.63 260.38 L181.63 258.62 L181.63 256.86 L181.64 255.10 L181.64 253.35 L181.64 251.59 L181.65 249.83 L181.65 248.07 L181.65 246.31 L181.66 244.56 L181.66 242.80 L181.67 241.04 L181.67 239.28 L181.67 237.53 L181.68 235.77 L181.68 234.01 L181.69 232.25 L181.70 230.50 L181.71 228.74 L181.72 226.98 L181.73 225.22 L181.74 223.47 L181.76 221.71 L181.78 219.95 L181.80 218.20 L181.82 216.44 L181.84 214.69 L181.87 212.93 L181.91 211.17 L181.94 209.42 L181.98 207.66 L182.02 205.91 L182.07 204.15 L182.12 202.39 L182.18 200.64 L182.24 198.88 L182.31 197.13 L182.38 195.37 L182.45 193.62 L182.53 191.86 L182.62 190.11 L182.72 188.35 L182.81 186.60 L182.92 184.84 L183.03 183.09 L183.15 181.33 L183.28 179.58 L183.41 177.83 L183.55 176.07 L183.70 174.32 L183.85 172.57 L184.02 170.81 L184.19 169.06 L184.37 167.31 L184.56 165.55 L184.76 163.80 L184.96 162.05 L185.18 160.29 L185.40 158.54 L185.64 156.79 L185.88 155.04 L186.14 153.28 L186.40 151.53 L186.67 149.78 L186.96 148.03 L187.26 146.28 L187.57 144.53 L187.89 142.78 L188.23 141.04 L188.58 139.30 L188.94 137.56 L189.33 135.83 L189.72 134.11 L190.14 132.38 L190.57 130.67 L191.02 128.96 L191.49 127.25 L191.98 125.56 L192.49 123.87 L193.02 122.19 L193.57 120.52 L194.15 118.86 L194.74 117.21 L195.36 115.57 L196.01 113.94 L196.68 112.32 L197.37 110.71 L198.10 109.12 L198.84 107.54 L199.62 105.97 L200.42 104.42 L201.25 102.88 L202.11 101.35 L203.00 99.85 L203.91 98.35 L204.85 96.88 L205.82 95.42 L206.81 93.98 L207.82 92.56 L208.87 91.16 L209.93 89.77 L211.02 88.41 L212.14 87.06 L213.28 85.74 L214.44 84.44 L215.63 83.16 L216.84 81.90 L218.07 80.67 L219.32 79.46 L220.60 78.27 L221.90 77.11 L223.22 75.97 L224.56 74.86 L225.92 73.77 L227.30 72.71 L228.71 71.68 L230.13 70.68 L231.57 69.70 L233.03 68.75 L234.50 67.82 L236.00 66.92 L237.51 66.04 L239.03 65.18 L240.58 64.35 L242.13 63.54 L243.70 62.75 L245.28 61.99 L246.87 61.24 L248.48 60.51 L250.10 59.80 L251.72 59.11 L253.36 58.44 L255.00 57.79 L256.66 57.15 L258.32 56.53 L259.98 55.92 L261.66 55.33 L263.34 54.75 L265.02 54.19 L266.71 53.64 L268.40 53.10 L270.10 52.58 L271.80 52.06 L273.49 51.56 L275.20 51.06 L276.90 50.58 L278.60 50.11 L280.31 49.64 L282.01 49.19 L283.72 48.75 L285.43 48.31 L287.15 47.89 L288.86 47.47 L290.57 47.07 L292.29 46.67 L294.01 46.28 L295.73 45.90 L297.45 45.53 L299.17 45.16 L300.89 44.81 L302.62 44.46 L304.34 44.12 L306.07 43.78 L307.79 43.46 L309.52 43.14 L311.25 42.82 L312.98 42.52 L314.71 42.21 L316.45 41.92 L318.18 41.63 L319.91 41.35 L321.65 41.08 L323.39 40.81 L325.12 40.54 L326.86 40.29 L328.60 40.04 L330.34 39.79 L332.08 39.55 L333.82 39.32 L335.56 39.09 L337.30 38.87 L339.05 38.66 L340.79 38.45 L342.54 38.25 L344.28 38.05 L346.03 37.86 L347.77 37.67 L349.52 37.49 L351.27 37.31 L353.02 37.14 L354.77 36.98 L356.52 36.82 L358.27 36.67 L360.02 36.52 L361.77 36.37 L363.52 36.24 L365.28 36.10 L367.03 35.98 L368.78 35.85 L370.54 35.74 L372.29 35.62 L374.05 35.52 L375.80 35.42 L377.56 35.32 L379.31 35.23 L381.07 35.14 L382.82 35.06 L384.58 34.98 L386.34 34.90 L388.10 34.84 L389.85 34.77 L391.61 34.71 L393.37 34.66 L395.13 34.61 L396.89 34.56 L398.65 34.52 L400.41 34.48 L402.17 34.45 L403.93 34.42 L405.68 34.40 L407.44 34.38 L409.20 34.36 L410.96 34.35 L412.72 34.34 L414.48 34.34 L416.24 34.34 L418.00 34.35 L419.76 34.36 L421.52 34.37 L423.28 34.39 L425.04 34.41 L426.80 34.43 L426.80 34.43 L426.80 380.00 Z"/></clipPath>
<path clip-path="url(#oc)" d="M162.05 30 V380 M177.60 30 V380 M193.15 30 V380 M208.70 30 V380 M224.25 30 V380 M239.80 30 V380 M255.35 30 V380 M270.90 30 V380 M286.45 30 V380 M302.00 30 V380 M317.55 30 V380 M333.10 30 V380 M348.65 30 V380 M364.20 30 V380 M379.75 30 V380 M395.30 30 V380 M410.85 30 V380 M426.40 30 V380 M180 30.10 H428 M180 66.60 H428 M180 103.10 H428 M180 139.60 H428 M180 176.10 H428 M180 212.60 H428 M180 249.10 H428 M180 285.60 H428 M180 322.10 H428 M180 358.60 H428 M-2.57 380 L146.54 30 M12.98 380 L162.09 30 M28.53 380 L177.64 30 M44.08 380 L193.19 30 M59.63 380 L208.74 30 M75.18 380 L224.29 30 M90.73 380 L239.84 30 M106.28 380 L255.39 30 M121.83 380 L270.94 30 M137.38 380 L286.49 30 M152.93 380 L302.04 30 M168.48 380 L317.59 30 M184.03 380 L333.14 30 M199.58 380 L348.69 30 M215.13 380 L364.24 30 M230.68 380 L379.79 30 M246.23 380 L395.34 30 M261.78 380 L410.89 30 M277.33 380 L426.44 30 M292.88 380 L441.99 30 M308.43 380 L457.54 30 M323.98 380 L473.09 30 M339.53 380 L488.64 30 M355.08 380 L504.19 30 M370.63 380 L519.74 30 M386.18 380 L535.29 30 M401.73 380 L550.84 30 M417.28 380 L566.39 30" fill="none" stroke="#F0BE6E" stroke-opacity="0.15" stroke-width="0.6"/>
<path d="M271.05 380.03 L271.06 378.65 L271.07 377.26 L271.08 375.88 L271.09 374.50 L271.10 373.11 L271.10 371.73 L271.11 370.35 L271.12 368.97 L271.12 367.59 L271.13 366.20 L271.13 364.82 L271.14 363.44 L271.14 362.06 L271.15 360.68 L271.15 359.30 L271.15 357.92 L271.15 356.53 L271.15 355.15 L271.15 353.77 L271.15 352.39 L271.15 351.01 L271.15 349.63 L271.15 348.25 L271.15 346.87 L271.15 345.49 L271.15 344.11 L271.14 342.74 L271.14 341.36 L271.14 339.98 L271.14 338.60 L271.13 337.22 L271.13 335.84 L271.13 334.46 L271.12 333.08 L271.12 331.70 L271.12 330.33 L271.11 328.95 L271.11 327.57 L271.11 326.19 L271.10 324.81 L271.10 323.44 L271.09 322.06 L271.09 320.68 L271.09 319.30 L271.08 317.92 L271.08 316.55 L271.08 315.17 L271.08 313.79 L271.07 312.41 L271.07 311.04 L271.07 309.66 L271.07 308.28 L271.06 306.90 L271.06 305.53 L271.06 304.15 L271.06 302.77 L271.06 301.39 L271.06 300.02 L271.06 298.64 L271.06 297.26 L271.06 295.88 L271.07 294.51 L271.07 293.13 L271.07 291.75 L271.08 290.37 L271.08 289.00 L271.08 287.62 L271.09 286.24 L271.10 284.86 L271.10 283.49 L271.11 282.11 L271.12 280.73 L271.13 279.35 L271.13 277.98 L271.14 276.60 L271.16 275.22 L271.17 273.84 L271.18 272.46 L271.19 271.09 L271.21 269.71 L271.22 268.33 L271.24 266.95 L271.26 265.57 L271.27 264.19 L271.29 262.82 L271.31 261.44 L271.33 260.06 L271.36 258.68 L271.38 257.30 L271.40 255.92 L271.43 254.54 L271.45 253.16 L271.48 251.78 L271.51 250.40 L271.54 249.02 L271.57 247.64 L271.60 246.26 L271.64 244.88 L271.67 243.50 L271.71 242.12 L271.74 240.74 L271.78 239.36 L271.82 237.98 L271.86 236.60 L271.91 235.22 L271.95 233.84 L272.00 232.45 L272.04 231.07 L272.09 229.69 L272.14 228.31 L272.19 226.93 L272.25 225.54 L272.30 224.16 L272.36 222.78 L272.42 221.40 L272.48 220.01 L272.54 218.63 L272.60 217.24 L272.67 215.86 L272.73 214.48 L272.80 213.09 L272.87 211.71 L272.94 210.32 L273.01 208.94 L273.09 207.55 L273.17 206.17 L273.25 204.78 L273.33 203.39 L273.41 202.01 L273.49 200.62 L273.58 199.23 L273.67 197.85 L273.76 196.46 L273.85 195.07 L273.95 193.68 L274.05 192.30 L274.15 190.91 L274.25 189.52 L274.35 188.13 L274.46 186.75 L274.58 185.36 L274.69 183.97 L274.82 182.59 L274.94 181.20 L275.08 179.82 L275.21 178.44 L275.36 177.06 L275.51 175.68 L275.67 174.31 L275.83 172.93 L276.00 171.56 L276.18 170.19 L276.36 168.82 L276.56 167.46 L276.76 166.09 L276.97 164.73 L277.19 163.38 L277.42 162.02 L277.66 160.67 L277.91 159.33 L278.17 157.98 L278.44 156.64 L278.73 155.31 L279.02 153.98 L279.33 152.65 L279.64 151.33 L279.97 150.01 L280.32 148.70 L280.67 147.39 L281.04 146.08 L281.42 144.78 L281.82 143.49 L282.23 142.20 L282.66 140.92 L283.10 139.64 L283.55 138.37 L284.02 137.11 L284.51 135.85 L285.01 134.60 L285.53 133.35 L286.07 132.11 L286.63 130.88 L287.20 129.66 L287.79 128.44 L288.40 127.23 L289.02 126.02 L289.67 124.83 L290.33 123.64 L291.02 122.46 L291.72 121.28 L292.45 120.12 L293.19 118.96 L293.95 117.82 L294.73 116.68 L295.53 115.55 L296.35 114.44 L297.18 113.33 L298.04 112.23 L298.91 111.15 L299.79 110.08 L300.70 109.02 L301.61 107.97 L302.55 106.94 L303.50 105.91 L304.47 104.91 L305.45 103.91 L306.45 102.94 L307.46 101.97 L308.48 101.02 L309.52 100.09 L310.57 99.17 L311.64 98.27 L312.72 97.39 L313.81 96.52 L314.91 95.67 L316.03 94.84 L317.15 94.03 L318.29 93.24 L319.44 92.46 L320.60 91.70 L321.77 90.97 L322.95 90.25 L324.14 89.55 L325.34 88.87 L326.55 88.21 L327.77 87.56 L329.00 86.93 L330.23 86.32 L331.48 85.72 L332.73 85.14 L333.99 84.58 L335.25 84.03 L336.52 83.50 L337.80 82.98 L339.08 82.47 L340.37 81.98 L341.67 81.51 L342.96 81.05 L344.27 80.60 L345.58 80.16 L346.89 79.74 L348.21 79.33 L349.52 78.93 L350.85 78.55 L352.17 78.17 L353.50 77.81 L354.83 77.46 L356.16 77.12 L357.50 76.79 L358.84 76.47 L360.18 76.16 L361.52 75.86 L362.87 75.58 L364.21 75.30 L365.56 75.03 L366.92 74.77 L368.27 74.53 L369.63 74.29 L370.98 74.06 L372.34 73.84 L373.70 73.63 L375.07 73.42 L376.43 73.23 L377.80 73.05 L379.16 72.87 L380.53 72.70 L381.90 72.54 L383.27 72.39 L384.65 72.25 L386.02 72.11 L387.39 71.98 L388.77 71.86 L390.14 71.74 L391.52 71.63 L392.90 71.53 L394.28 71.44 L395.66 71.35 L397.04 71.27 L398.42 71.19 L399.80 71.12 L401.18 71.06 L402.56 71.00 L403.94 70.95 L405.32 70.90 L406.70 70.86 L408.08 70.82 L409.46 70.79 L410.84 70.76 L412.22 70.73 L413.60 70.72 L414.98 70.70 L416.36 70.69 L417.74 70.68 L419.11 70.68 L420.49 70.68 L421.87 70.68 L423.24 70.69 L424.62 70.70 L425.99 70.71 L426.00 70.71" fill="none" stroke="#5E81B5" stroke-width="2"/>
<path d="M181.60 380.00 L181.60 378.24 L181.60 376.48 L181.60 374.72 L181.60 372.96 L181.60 371.20 L181.60 369.45 L181.60 367.69 L181.60 365.93 L181.60 364.17 L181.60 362.41 L181.60 360.65 L181.60 358.89 L181.60 357.13 L181.60 355.37 L181.60 353.62 L181.60 351.86 L181.60 350.10 L181.60 348.34 L181.60 346.58 L181.60 344.82 L181.60 343.06 L181.60 341.30 L181.60 339.54 L181.59 337.78 L181.59 336.02 L181.59 334.26 L181.59 332.50 L181.59 330.75 L181.59 328.99 L181.59 327.23 L181.59 325.47 L181.59 323.71 L181.59 321.95 L181.59 320.19 L181.59 318.43 L181.59 316.67 L181.59 314.91 L181.59 313.15 L181.59 311.39 L181.59 309.63 L181.59 307.87 L181.59 306.11 L181.59 304.35 L181.59 302.59 L181.59 300.84 L181.60 299.08 L181.60 297.32 L181.60 295.56 L181.60 293.80 L181.60 292.04 L181.60 290.28 L181.60 288.52 L181.60 286.76 L181.60 285.00 L181.60 283.24 L181.61 281.48 L181.61 279.72 L181.61 277.97 L181.61 276.21 L181.61 274.45 L181.61 272.69 L181.62 270.93 L181.62 269.17 L181.62 267.41 L181.62 265.65 L181.62 263.90 L181.63 262.14 L181.63 260.38 L181.63 258.62 L181.63 256.86 L181.64 255.10 L181.64 253.35 L181.64 251.59 L181.65 249.83 L181.65 248.07 L181.65 246.31 L181.66 244.56 L181.66 242.80 L181.67 241.04 L181.67 239.28 L181.67 237.53 L181.68 235.77 L181.68 234.01 L181.69 232.25 L181.70 230.50 L181.71 228.74 L181.72 226.98 L181.73 225.22 L181.74 223.47 L181.76 221.71 L181.78 219.95 L181.80 218.20 L181.82 216.44 L181.84 214.69 L181.87 212.93 L181.91 211.17 L181.94 209.42 L181.98 207.66 L182.02 205.91 L182.07 204.15 L182.12 202.39 L182.18 200.64 L182.24 198.88 L182.31 197.13 L182.38 195.37 L182.45 193.62 L182.53 191.86 L182.62 190.11 L182.72 188.35 L182.81 186.60 L182.92 184.84 L183.03 183.09 L183.15 181.33 L183.28 179.58 L183.41 177.83 L183.55 176.07 L183.70 174.32 L183.85 172.57 L184.02 170.81 L184.19 169.06 L184.37 167.31 L184.56 165.55 L184.76 163.80 L184.96 162.05 L185.18 160.29 L185.40 158.54 L185.64 156.79 L185.88 155.04 L186.14 153.28 L186.40 151.53 L186.67 149.78 L186.96 148.03 L187.26 146.28 L187.57 144.53 L187.89 142.78 L188.23 141.04 L188.58 139.30 L188.94 137.56 L189.33 135.83 L189.72 134.11 L190.14 132.38 L190.57 130.67 L191.02 128.96 L191.49 127.25 L191.98 125.56 L192.49 123.87 L193.02 122.19 L193.57 120.52 L194.15 118.86 L194.74 117.21 L195.36 115.57 L196.01 113.94 L196.68 112.32 L197.37 110.71 L198.10 109.12 L198.84 107.54 L199.62 105.97 L200.42 104.42 L201.25 102.88 L202.11 101.35 L203.00 99.85 L203.91 98.35 L204.85 96.88 L205.82 95.42 L206.81 93.98 L207.82 92.56 L208.87 91.16 L209.93 89.77 L211.02 88.41 L212.14 87.06 L213.28 85.74 L214.44 84.44 L215.63 83.16 L216.84 81.90 L218.07 80.67 L219.32 79.46 L220.60 78.27 L221.90 77.11 L223.22 75.97 L224.56 74.86 L225.92 73.77 L227.30 72.71 L228.71 71.68 L230.13 70.68 L231.57 69.70 L233.03 68.75 L234.50 67.82 L236.00 66.92 L237.51 66.04 L239.03 65.18 L240.58 64.35 L242.13 63.54 L243.70 62.75 L245.28 61.99 L246.87 61.24 L248.48 60.51 L250.10 59.80 L251.72 59.11 L253.36 58.44 L255.00 57.79 L256.66 57.15 L258.32 56.53 L259.98 55.92 L261.66 55.33 L263.34 54.75 L265.02 54.19 L266.71 53.64 L268.40 53.10 L270.10 52.58 L271.80 52.06 L273.49 51.56 L275.20 51.06 L276.90 50.58 L278.60 50.11 L280.31 49.64 L282.01 49.19 L283.72 48.75 L285.43 48.31 L287.15 47.89 L288.86 47.47 L290.57 47.07 L292.29 46.67 L294.01 46.28 L295.73 45.90 L297.45 45.53 L299.17 45.16 L300.89 44.81 L302.62 44.46 L304.34 44.12 L306.07 43.78 L307.79 43.46 L309.52 43.14 L311.25 42.82 L312.98 42.52 L314.71 42.21 L316.45 41.92 L318.18 41.63 L319.91 41.35 L321.65 41.08 L323.39 40.81 L325.12 40.54 L326.86 40.29 L328.60 40.04 L330.34 39.79 L332.08 39.55 L333.82 39.32 L335.56 39.09 L337.30 38.87 L339.05 38.66 L340.79 38.45 L342.54 38.25 L344.28 38.05 L346.03 37.86 L347.77 37.67 L349.52 37.49 L351.27 37.31 L353.02 37.14 L354.77 36.98 L356.52 36.82 L358.27 36.67 L360.02 36.52 L361.77 36.37 L363.52 36.24 L365.28 36.10 L367.03 35.98 L368.78 35.85 L370.54 35.74 L372.29 35.62 L374.05 35.52 L375.80 35.42 L377.56 35.32 L379.31 35.23 L381.07 35.14 L382.82 35.06 L384.58 34.98 L386.34 34.90 L388.10 34.84 L389.85 34.77 L391.61 34.71 L393.37 34.66 L395.13 34.61 L396.89 34.56 L398.65 34.52 L400.41 34.48 L402.17 34.45 L403.93 34.42 L405.68 34.40 L407.44 34.38 L409.20 34.36 L410.96 34.35 L412.72 34.34 L414.48 34.34 L416.24 34.34 L418.00 34.35 L419.76 34.36 L421.52 34.37 L423.28 34.39 L425.04 34.41 L426.80 34.43 L426.80 34.43 L426.80 380.00" fill="none" stroke="#E19C24" stroke-width="2"/>
<path d="M72.26 379.98 L73.52 379.52 L74.77 379.06 L76.03 378.61 L77.29 378.15 L78.55 377.69 L79.80 377.23 L81.06 376.78 L82.32 376.32 L83.58 375.86 L84.84 375.39 L86.10 374.93 L87.35 374.47 L88.61 374.01 L89.87 373.54 L91.13 373.08 L92.39 372.61 L93.65 372.15 L94.90 371.68 L96.16 371.21 L97.42 370.74 L98.68 370.27 L99.93 369.80 L101.19 369.33 L102.45 368.85 L103.71 368.38 L104.96 367.90 L106.22 367.42 L107.48 366.94 L108.73 366.46 L109.99 365.98 L111.24 365.50 L112.50 365.02 L113.75 364.53 L115.01 364.05 L116.26 363.56 L117.51 363.07 L118.77 362.58 L120.02 362.09 L121.27 361.59 L122.52 361.10 L123.77 360.60 L125.02 360.10 L126.27 359.60 L127.52 359.10 L128.77 358.60 L130.02 358.09 L131.27 357.59 L132.51 357.08 L133.76 356.57 L135.00 356.06 L136.25 355.54 L137.49 355.03 L138.73 354.51 L139.98 353.99 L141.22 353.47 L142.46 352.95 L143.70 352.42 L144.94 351.89 L146.17 351.36 L147.41 350.83 L148.65 350.30 L149.88 349.76 L151.12 349.22 L152.35 348.68 L153.58 348.14 L154.81 347.60 L156.04 347.05 L157.27 346.50 L158.50 345.95 L159.73 345.40 L160.95 344.84 L162.18 344.28 L163.40 343.72 L164.62 343.16 L165.84 342.59 L167.06 342.02 L168.28 341.45 L169.50 340.88 L170.72 340.30 L171.93 339.72 L173.14 339.14 L174.36 338.55 L175.57 337.97 L176.78 337.38 L177.99 336.79 L179.19 336.19 L180.40 335.59 L181.60 334.99 L182.80 334.39 L184.00 333.78 L185.20 333.17 L186.40 332.56 L187.60 331.94 L188.79 331.32 L189.99 330.70 L191.18 330.08 L192.37 329.45 L193.56 328.82 L194.74 328.18 L195.93 327.55 L197.11 326.90 L198.29 326.26 L199.47 325.61 L200.65 324.96 L201.83 324.31 L203.00 323.65 L204.17 322.99 L205.34 322.33 L206.51 321.66 L207.68 320.99 L208.84 320.32 L210.01 319.64 L211.17 318.96 L212.33 318.27 L213.48 317.59 L214.64 316.90 L215.79 316.20 L216.94 315.50 L218.09 314.80 L219.23 314.10 L220.37 313.39 L221.51 312.68 L222.65 311.96 L223.79 311.24 L224.92 310.52 L226.05 309.79 L227.18 309.06 L228.30 308.33 L229.42 307.59 L230.54 306.85 L231.66 306.10 L232.77 305.36 L233.88 304.60 L234.99 303.85 L236.09 303.09 L237.20 302.33 L238.29 301.56 L239.39 300.79 L240.48 300.01 L241.57 299.24 L242.66 298.45 L243.74 297.67 L244.82 296.88 L245.90 296.08 L246.97 295.29 L248.04 294.49 L249.11 293.68 L250.17 292.87 L251.23 292.06 L252.28 291.24 L253.34 290.42 L254.38 289.60 L255.43 288.77 L256.47 287.93 L257.51 287.10 L258.54 286.26 L259.57 285.41 L260.60 284.56 L261.62 283.71 L262.65 282.86 L263.66 282.00 L264.68 281.14 L265.69 280.27 L266.70 279.40 L267.71 278.53 L268.72 277.65 L269.73 276.77 L270.73 275.89 L271.73 275.01 L272.73 274.12 L273.73 273.23 L274.73 272.34 L275.73 271.44 L276.72 270.55 L277.72 269.65 L278.71 268.74 L279.71 267.84 L280.70 266.93 L281.70 266.02 L282.69 265.11 L283.69 264.20 L284.68 263.29 L285.68 262.37 L286.67 261.45 L287.67 260.53 L288.66 259.60 L289.65 258.68 L290.64 257.75 L291.63 256.81 L292.62 255.88 L293.60 254.94 L294.58 254.00 L295.55 253.05 L296.53 252.10 L297.49 251.15 L298.46 250.19 L299.42 249.23 L300.37 248.27 L301.32 247.30 L302.27 246.33 L303.20 245.35 L304.13 244.37 L305.06 243.39 L305.98 242.39 L306.89 241.40 L307.80 240.40 L308.70 239.40 L309.59 238.39 L310.48 237.37 L311.36 236.36 L312.23 235.34 L313.10 234.31 L313.96 233.28 L314.82 232.25 L315.67 231.21 L316.51 230.16 L317.35 229.12 L318.18 228.07 L319.01 227.01 L319.83 225.95 L320.64 224.89 L321.45 223.82 L322.25 222.75 L323.05 221.68 L323.84 220.60 L324.62 219.52 L325.40 218.43 L326.17 217.34 L326.94 216.24 L327.70 215.15 L328.45 214.04 L329.20 212.94 L329.95 211.83 L330.69 210.72 L331.42 209.60 L332.15 208.48 L332.87 207.36 L333.58 206.23 L334.29 205.10 L335.00 203.97 L335.70 202.83 L336.39 201.69 L337.08 200.55 L337.76 199.40 L338.44 198.25 L339.11 197.10 L339.78 195.94 L340.44 194.78 L341.09 193.62 L341.74 192.45 L342.39 191.28 L343.03 190.11 L343.66 188.93 L344.29 187.75 L344.92 186.57 L345.54 185.39 L346.15 184.20 L346.76 183.01 L347.36 181.81 L347.96 180.62 L348.55 179.42 L349.14 178.22 L349.73 177.01 L350.31 175.81 L350.88 174.60 L351.45 173.38 L352.01 172.17 L352.57 170.95 L353.12 169.73 L353.67 168.51 L354.22 167.28 L354.76 166.05 L355.29 164.82 L355.82 163.59 L356.35 162.35 L356.87 161.12 L357.39 159.88 L357.90 158.63 L358.40 157.39 L358.91 156.14 L359.40 154.89 L359.90 153.64 L360.39 152.39 L360.87 151.14 L361.35 149.88 L361.82 148.62 L362.29 147.36 L362.76 146.09 L363.22 144.83 L363.68 143.56 L364.13 142.29 L364.58 141.02 L365.03 139.75 L365.47 138.47 L365.90 137.20 L366.33 135.92 L366.76 134.64 L367.18 133.36 L367.60 132.07 L368.02 130.79 L368.43 129.50 L368.84 128.21 L369.24 126.92 L369.64 125.63 L370.03 124.34 L370.42 123.05 L370.81 121.75 L371.19 120.45 L371.57 119.15 L371.95 117.85 L372.32 116.55 L372.69 115.25 L373.05 113.95 L373.41 112.64 L373.76 111.34 L374.12 110.03 L374.46 108.72 L374.81 107.41 L375.15 106.10 L375.49 104.79 L375.82 103.48 L376.15 102.17 L376.48 100.85 L376.80 99.54 L377.12 98.22 L377.43 96.91 L377.75 95.59 L378.06 94.27 L378.36 92.95 L378.66 91.63 L378.96 90.31 L379.26 88.99 L379.55 87.67 L379.84 86.34 L380.12 85.02 L380.40 83.70 L380.68 82.37 L380.96 81.05 L381.23 79.72 L381.50 78.40 L381.76 77.07 L382.03 75.75 L382.28 74.42 L382.54 73.09 L382.79 71.77 L383.04 70.44 L383.29 69.11 L383.53 67.79 L383.78 66.46 L384.01 65.13 L384.25 63.80 L384.48 62.47 L384.71 61.15 L384.94 59.82 L385.16 58.49 L385.38 57.16 L385.60 55.83 L385.81 54.51 L386.03 53.18 L386.24 51.85 L386.44 50.52 L386.65 49.20 L386.85 47.87 L387.05 46.54 L387.24 45.22 L387.44 43.89 L387.63 42.57 L387.82 41.24 L388.00 39.92 L388.19 38.59 L388.37 37.27 L388.55 35.95 L388.72 34.63 L388.90 33.30 L389.07 31.98 L389.24 30.66 L389.40 29.34 L389.57 28.03 L389.73 26.71 L389.89 25.39 L390.05 24.07 L390.20 22.76 L390.36 21.44 L390.51 20.13 L390.66 18.82 L390.80 17.50 L390.95 16.19 L391.09 14.88 L391.23 13.58 L391.37 12.27 L391.51 10.96 L391.64 9.66 L391.77 8.35 L391.90 7.05 L392.03 5.75 L392.16 4.45 L392.28 3.15 L392.41 1.85 L392.53 0.55" fill="none" stroke="#1a1a1a" stroke-width="0.65" stroke-dasharray="5.15 4.5"/>
<circle cx="117.30" cy="363.35" r="3.8" fill="#000"/>
<circle cx="188.80" cy="331.35" r="3.8" fill="#000"/>
<circle cx="260.40" cy="285.60" r="3.8" fill="#000"/>
<circle cx="308.40" cy="240.40" r="3.8" fill="#000"/>
<circle cx="332.00" cy="208.10" r="3.8" fill="#000"/>
<g fill="none" stroke="#686868" stroke-width="0.8">
<rect x="55.50" y="0.50" width="379.00" height="378.80"/>
</g><g fill="none" stroke="#222" stroke-width="0.6">
<path d="M62.50 379.30 v-5.00 M62.50 0.50 v5.00"/><path d="M85.24 379.30 v-3.00 M85.24 0.50 v3.00"/><path d="M107.98 379.30 v-3.00 M107.98 0.50 v3.00"/><path d="M130.72 379.30 v-3.00 M130.72 0.50 v3.00"/><path d="M153.46 379.30 v-3.00 M153.46 0.50 v3.00"/><path d="M176.20 379.30 v-5.00 M176.20 0.50 v5.00"/><path d="M198.94 379.30 v-3.00 M198.94 0.50 v3.00"/><path d="M221.68 379.30 v-3.00 M221.68 0.50 v3.00"/><path d="M244.42 379.30 v-3.00 M244.42 0.50 v3.00"/><path d="M267.16 379.30 v-3.00 M267.16 0.50 v3.00"/><path d="M289.90 379.30 v-5.00 M289.90 0.50 v5.00"/><path d="M312.64 379.30 v-3.00 M312.64 0.50 v3.00"/><path d="M335.38 379.30 v-3.00 M335.38 0.50 v3.00"/><path d="M358.12 379.30 v-3.00 M358.12 0.50 v3.00"/><path d="M380.86 379.30 v-3.00 M380.86 0.50 v3.00"/><path d="M403.60 379.30 v-5.00 M403.60 0.50 v5.00"/><path d="M426.34 379.30 v-3.00 M426.34 0.50 v3.00"/><path d="M55.50 49.20 h4.5"/><path d="M55.50 118.35 h4.5"/><path d="M55.50 187.50 h4.5"/><path d="M55.50 256.65 h4.5"/><path d="M55.50 325.80 h4.5"/>
</g>
<path d="M80.8 66.50 H105" stroke="#5E81B5" stroke-width="2" fill="none"/>
<text x="111.3" y="70.90" font-size="12" fill="#222">p=2</text>
<path d="M80.8 89.45 H105" stroke="#E19C24" stroke-width="2" fill="none"/>
<text x="111.3" y="93.85" font-size="12" fill="#222">p=3/2</text>
<path d="M80.8 112.50 H105" stroke="#8FB032" stroke-width="2" fill="none"/>
<text x="111.3" y="116.90" font-size="12" fill="#222">p=1</text>
<path d="M80.8 135.70 H105" stroke="#EB6235" stroke-width="2" fill="none"/>
<text x="111.3" y="140.10" font-size="12" fill="#222">p=2/3</text>
<path d="M80.8 158.80 H105" stroke="#8778B3" stroke-width="2" fill="none"/>
<text x="111.3" y="163.20" font-size="12" fill="#222">p=1/2</text>
<text x="51.0" y="54.20" font-size="14" font-weight="bold" text-anchor="end" fill="#000">0.1</text>
<text x="51.0" y="123.35" font-size="14" font-weight="bold" text-anchor="end" fill="#000">0.04</text>
<text x="51.0" y="192.50" font-size="14" font-weight="bold" text-anchor="end" fill="#000">0.016</text>
<text x="51.0" y="261.65" font-size="14" font-weight="bold" text-anchor="end" fill="#000">0.006</text>
<text x="51.0" y="330.80" font-size="14" font-weight="bold" text-anchor="end" fill="#000">0.003</text>
<text x="62.50" y="395.8" font-size="14" font-weight="bold" text-anchor="middle" fill="#000">−150</text>
<text x="176.20" y="395.8" font-size="14" font-weight="bold" text-anchor="middle" fill="#000">−100</text>
<text x="289.90" y="395.8" font-size="14" font-weight="bold" text-anchor="middle" fill="#000">−50</text>
<text x="403.60" y="395.8" font-size="14" font-weight="bold" text-anchor="middle" fill="#000">0</text>
<text x="0.5" y="194.2" font-size="14" font-weight="bold" font-style="italic" fill="#000">r</text>
<text x="235.5" y="420.2" font-size="14" font-weight="bold" font-style="italic" fill="#000">f</text>
<text x="240.5" y="422.9" font-size="10.5" font-weight="bold" fill="#000">NL</text>
</svg>
</body></html>
